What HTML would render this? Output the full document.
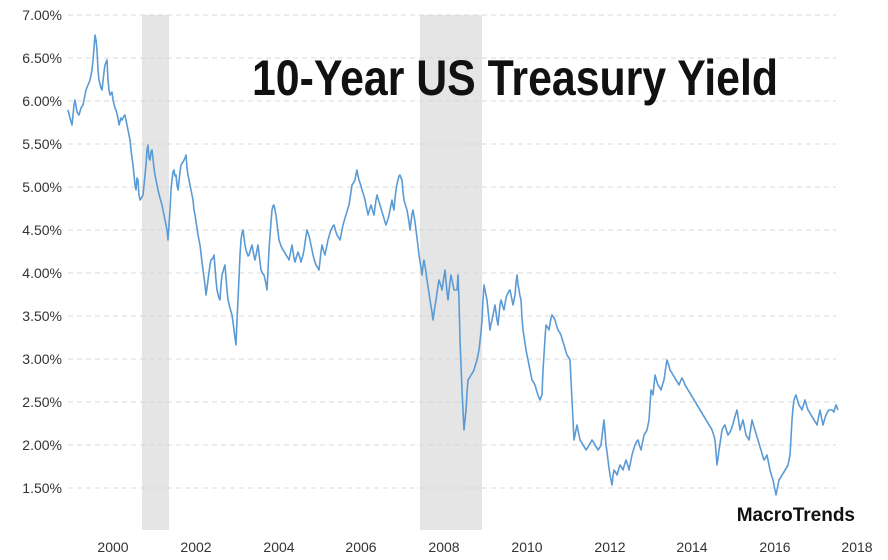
<!DOCTYPE html>
<html><head><meta charset="utf-8"><style>
body{margin:0;background:#fff;}
svg{display:block;font-family:"Liberation Sans",sans-serif;}
</style></head><body>
<svg width="888" height="560" viewBox="0 0 888 560">
<rect x="142" y="15" width="27" height="515" fill="#e5e5e5"/>
<rect x="420" y="15" width="62" height="515" fill="#e5e5e5"/>
<g stroke="#d8d8d8" stroke-dasharray="5,4" stroke-width="1">
<line x1="68" y1="15" x2="836" y2="15"/><line x1="68" y1="58" x2="836" y2="58"/>
<line x1="68" y1="101" x2="836" y2="101"/><line x1="68" y1="144" x2="836" y2="144"/>
<line x1="68" y1="187" x2="836" y2="187"/><line x1="68" y1="230" x2="836" y2="230"/>
<line x1="68" y1="273" x2="836" y2="273"/><line x1="68" y1="316" x2="836" y2="316"/>
<line x1="68" y1="359" x2="836" y2="359"/><line x1="68" y1="402" x2="836" y2="402"/>
<line x1="68" y1="445" x2="836" y2="445"/><line x1="68" y1="488" x2="836" y2="488"/>
</g>
<g font-size="14" fill="#333" text-anchor="end">
<text x="62" y="20">7.00%</text><text x="62" y="63">6.50%</text><text x="62" y="106">6.00%</text>
<text x="62" y="149">5.50%</text><text x="62" y="192">5.00%</text><text x="62" y="235">4.50%</text>
<text x="62" y="278">4.00%</text><text x="62" y="321">3.50%</text><text x="62" y="364">3.00%</text>
<text x="62" y="407">2.50%</text><text x="62" y="450">2.00%</text><text x="62" y="493">1.50%</text>
</g>
<g font-size="14" fill="#333" text-anchor="middle">
<text x="113" y="552">2000</text><text x="196" y="552">2002</text><text x="279" y="552">2004</text>
<text x="361" y="552">2006</text><text x="444" y="552">2008</text><text x="527" y="552">2010</text>
<text x="610" y="552">2012</text><text x="692" y="552">2014</text><text x="775" y="552">2016</text>
<text x="857" y="552">2018</text>
</g>
<polyline fill="none" stroke="#5b9bd5" stroke-width="1.6" stroke-linejoin="round" points="68,110 70,118 72,125 74,105 75,100 77,112 79,115 81,108 83,105 85,95 86,90 88,85 90,80 92,70 93,60 94,48 95,35 96,40 97,50 98,70 99,80 101,88 102,90 104,72 105,65 107,60 108,80 109,90 110,95 112,92 113,100 115,108 116,110 118,118 119,125 121,118 122,120 124,116 125,115 127,125 128,130 130,140 131,150 133,165 134,175 135,185 136,190 137,178 138,180 139,195 140,200 142,197 143,195 145,175 146,165 147,150 148,145 149,158 150,160 151,152 152,150 154,168 155,175 157,185 158,190 160,198 162,205 164,215 165,220 167,230 168,240 169,225 170,210 171,190 172,180 173,172 174,170 175,176 176,175 177,185 178,190 180,172 181,165 183,162 184,160 185,158 186,155 187,168 188,175 189,180 190,185 192,195 193,200 194,210 195,215 197,228 198,235 199,240 200,245 202,262 203,270 205,285 206,295 207,288 208,280 210,265 211,260 213,258 214,255 216,280 217,290 219,298 220,300 221,285 222,275 224,268 225,265 227,290 228,300 230,308 232,315 233,322 234,330 235,338 236,345 237,320 238,300 240,255 241,240 242,233 243,230 245,245 246,250 248,256 249,255 251,248 252,245 254,256 255,260 257,250 258,245 260,262 261,270 263,274 264,275 266,284 267,290 268,270 269,250 271,222 272,210 273,206 274,205 275,210 276,215 278,232 279,240 281,246 283,250 285,253 286,255 288,258 289,260 291,250 292,245 294,258 295,262 297,255 298,252 300,258 301,262 303,255 304,250 306,236 307,230 309,236 310,240 312,250 313,255 315,262 316,265 318,268 319,270 321,252 322,245 324,252 325,255 327,245 328,240 330,233 331,230 333,226 334,225 336,232 337,235 339,238 340,240 342,230 343,225 345,218 346,215 348,208 349,205 351,192 352,185 354,182 355,180 356,174 357,170 358,176 359,180 361,186 362,190 364,196 365,200 367,210 368,215 370,208 371,205 373,212 374,215 376,200 377,195 379,202 380,205 382,212 383,215 385,222 386,225 388,219 389,215 391,205 392,200 393,206 394,210 395,198 396,190 397,184 398,180 399,176 400,175 401,178 402,180 403,192 404,200 406,207 407,210 409,222 410,230 412,214 413,210 415,222 416,230 418,246 419,255 421,268 422,275 423,266 424,260 426,272 427,280 429,293 430,300 432,312 433,320 435,306 436,300 438,286 439,280 441,286 442,290 444,276 445,270 447,292 448,300 450,282 451,275 453,285 454,290 456,290 457,290 458,275 459,300 460,340 461,365 462,390 463,410 464,430 465,420 466,410 467,393 468,380 470,377 471,375 473,372 474,370 476,363 477,360 478,355 479,350 481,332 482,320 483,300 484,285 486,295 487,300 489,320 490,330 491,324 492,320 494,310 495,305 497,320 498,325 500,305 501,300 503,307 504,310 506,298 507,295 509,291 510,290 512,300 513,305 514,300 515,295 516,283 517,275 518,284 519,290 520,296 521,300 522,318 523,330 525,343 526,350 528,360 529,365 531,375 532,380 534,383 535,385 537,392 538,395 539,398 540,400 541,397 542,395 543,370 544,355 545,338 546,325 548,328 549,330 551,318 552,315 554,318 555,320 557,327 558,330 560,333 561,335 563,342 564,345 566,352 567,355 569,358 570,360 571,380 572,400 573,420 574,440 576,430 577,425 579,435 580,440 582,443 583,445 585,448 586,450 588,447 589,445 591,442 592,440 594,443 595,445 597,448 598,450 600,447 601,445 603,428 604,420 605,432 606,445 607,452 608,460 609,468 610,475 611,480 612,485 613,476 614,470 616,473 617,475 619,468 620,465 622,468 623,470 625,463 626,460 628,466 629,470 631,460 632,455 634,448 635,445 637,441 638,440 640,447 641,450 643,440 644,435 646,432 647,430 648,425 649,420 650,405 651,390 652,392 653,395 654,385 655,375 657,382 658,385 660,388 661,390 663,383 664,380 666,366 667,360 669,366 670,370 672,373 673,375 675,378 676,380 678,383 679,385 681,380 682,378 684,382 685,385 687,388 688,390 690,393 691,395 693,398 694,400 696,403 697,405 699,408 700,410 702,413 703,415 705,418 706,420 708,423 709,425 711,428 712,430 714,436 715,440 716,452 717,465 718,458 719,450 721,437 722,430 724,426 725,425 727,432 728,435 730,432 731,430 733,424 734,420 736,413 737,410 739,423 740,430 742,423 743,420 745,430 746,435 748,438 749,440 751,427 752,420 754,427 755,430 757,437 758,440 760,447 761,450 763,457 764,460 766,457 767,455 769,465 770,470 772,477 773,480 775,490 776,495 778,485 779,480 781,477 782,475 784,472 785,470 787,467 788,465 789,460 790,455 791,438 792,420 793,408 794,400 795,397 796,395 798,402 799,405 801,408 802,410 804,403 805,400 807,407 808,410 810,413 811,415 813,418 814,420 816,423 817,425 819,415 820,410 822,420 823,425 825,418 826,415 828,411 829,410 831,410 832,410 833,411 834,412 835,408 836,405 837,407 838,410"/>
<text x="252" y="95" font-size="50" font-weight="bold" fill="#111" textLength="526" lengthAdjust="spacingAndGlyphs">10-Year US Treasury Yield</text>
<text x="855" y="521" font-size="19" font-weight="bold" fill="#111" text-anchor="end">MacroTrends</text>
</svg>
</body></html>
